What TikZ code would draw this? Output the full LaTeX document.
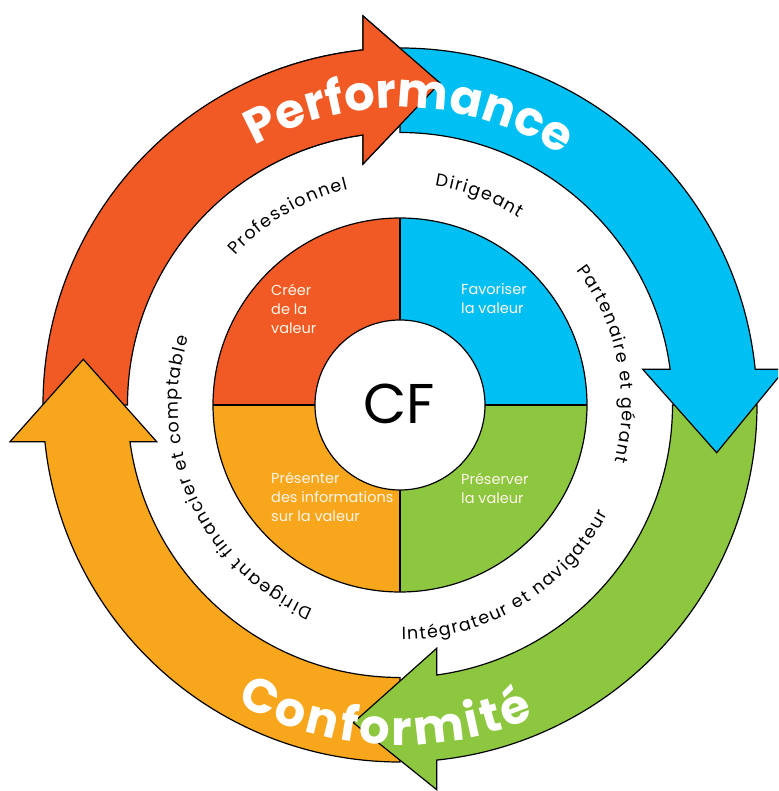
\documentclass[tikz,border=0pt]{standalone}
\usepackage{fontspec}
\setmainfont{Poppins}
\usetikzlibrary{decorations.text}
\definecolor{cred}{RGB}{241,90,36}
\definecolor{cblue}{RGB}{0,191,243}
\definecolor{cgreen}{RGB}{141,198,63}
\definecolor{corange}{RGB}{248,166,28}
\definecolor{ctext}{RGB}{255,246,232}
\newcommand\ringfont{\fontsize{17.5}{20}\selectfont\kern1.4pt}
\newcommand\bigfont{\fontsize{48}{50}\selectfont\bfseries}
\newcommand\confont{\fontsize{48}{50}\selectfont\bfseries\kern3pt}
\begin{document}
\begin{tikzpicture}[x=1pt,y=1pt,
  band/.style={draw=black,line width=1.2pt,line join=miter},
  pieline/.style={draw=black,line width=1.2pt},
  plabel/.style={anchor=base west,inner sep=0pt,text=ctext,font=\fontsize{14.5}{19}\selectfont},
  ringtext/.style={decorate,decoration={text along path,text align=center,text={|\ringfont|#1}}},
  bigtext/.style={decorate,decoration={text along path,text align=center,text color=white,text={|\bigfont|#1}}},
  context/.style={decorate,decoration={text along path,text align=center,text color=white,text={|\confont|#1}}}]
\useasboundingbox (-400,-386) rectangle (378,405);
\clip (-400,-386) rectangle (378,405);
\def\ri{272.5}
\def\ro{357}
\def\redpath{(-\ri,0) -- (-\ro,0) arc[start angle=180,end angle=95.95,radius=\ro] -- (-37,389) -- (40,322) -- (-37,241) -- (97.8:\ri) arc[start angle=97.8,end angle=180,radius=\ri] -- cycle}
\def\bluepath{(0,\ri) -- (0,\ro) arc[start angle=90,end angle=5.74,radius=\ro] -- (385,35.7) -- (316.7,-47.7) -- (242.7,35.7) -- (7.53:\ri) arc[start angle=7.53,end angle=90,radius=\ri] -- cycle}
\def\greenpath{(\ri,0) -- (\ro,0) arc[start angle=0,end angle=-84.1,radius=\ro] -- (36.7,-384.7) -- (-46.7,-317.7) -- (36.7,-243.3) -- (-82.26:\ri) arc[start angle=-82.26,end angle=0,radius=\ri] -- cycle}
\def\orangepath{(0,-\ri) -- (0,-\ro) arc[start angle=270,end angle=185.9,radius=\ro] -- (-390,-36.7) -- (-316.7,45.7) -- (-243.3,-36.7) -- (187.74:\ri) arc[start angle=187.74,end angle=270,radius=\ri] -- cycle}
% arrows
\path[band,fill=cred] \redpath;
\path[band,fill=corange] \orangepath;
\path[band,fill=cgreen] \greenpath;
\path[band,fill=cblue] \bluepath;
\begin{scope}
\clip (-150,150) rectangle (200,420);
\path[band,fill=cred] \redpath;
\end{scope}
% big texts
\path[bigtext=Performance] (178.1:297) arc[start angle=178.1,end angle=-1.9,radius=297];
\path[context=Conformité] (177:340) arc[start angle=177,end angle=357,radius=340];
% ring texts
\path[ringtext=Professionnel] (170.8:222) arc[start angle=170.8,end angle=70.8,radius=222];
\path[ringtext=Dirigeant] (119.4:222) arc[start angle=119.4,end angle=19.4,radius=222];
\path[ringtext=Partenaire et gérant] (71.4:222) arc[start angle=71.4,end angle=-48.6,radius=222];
\path[ringtext=Dirigeant financier et comptable] (294.7:222) arc[start angle=294.7,end angle=114.7,radius=222];
\path[ringtext=Intégrateur et navigateur] (-128.8:235) arc[start angle=-128.8,end angle=11.2,radius=235];
% pie
\fill[cred] (0,0) -- (0,187) arc[start angle=90,end angle=180,radius=187] -- cycle;
\fill[cblue] (0,0) -- (187,0) arc[start angle=0,end angle=90,radius=187] -- cycle;
\fill[cgreen] (0,0) -- (0,-187) arc[start angle=-90,end angle=0,radius=187] -- cycle;
\fill[corange] (0,0) -- (-187,0) arc[start angle=180,end angle=270,radius=187] -- cycle;
\path[pieline] (0,0) circle[radius=187];
\path[pieline] (0,187) -- (0,-187) (-187,0) -- (187,0);
\path[pieline,fill=white] (0,0) circle[radius=85];
\node (cf) at (-1,1) {\fontsize{56}{56}\selectfont CF};
\node[plabel] (l1) at (-129,109) {\begin{tabular}[t]{@{}l@{}}Créer\\de la\\valeur\end{tabular}};
\node[plabel] (l2) at (61,110) {\begin{tabular}[t]{@{}l@{}}Favoriser\\la valeur\end{tabular}};
\node[plabel] (l3) at (-129,-79) {\begin{tabular}[t]{@{}l@{}}Présenter\\des informations\\sur la valeur\end{tabular}};
\node[plabel] (l4) at (61,-80) {\begin{tabular}[t]{@{}l@{}}Préserver\\la valeur\end{tabular}};
\end{tikzpicture}
\end{document}
